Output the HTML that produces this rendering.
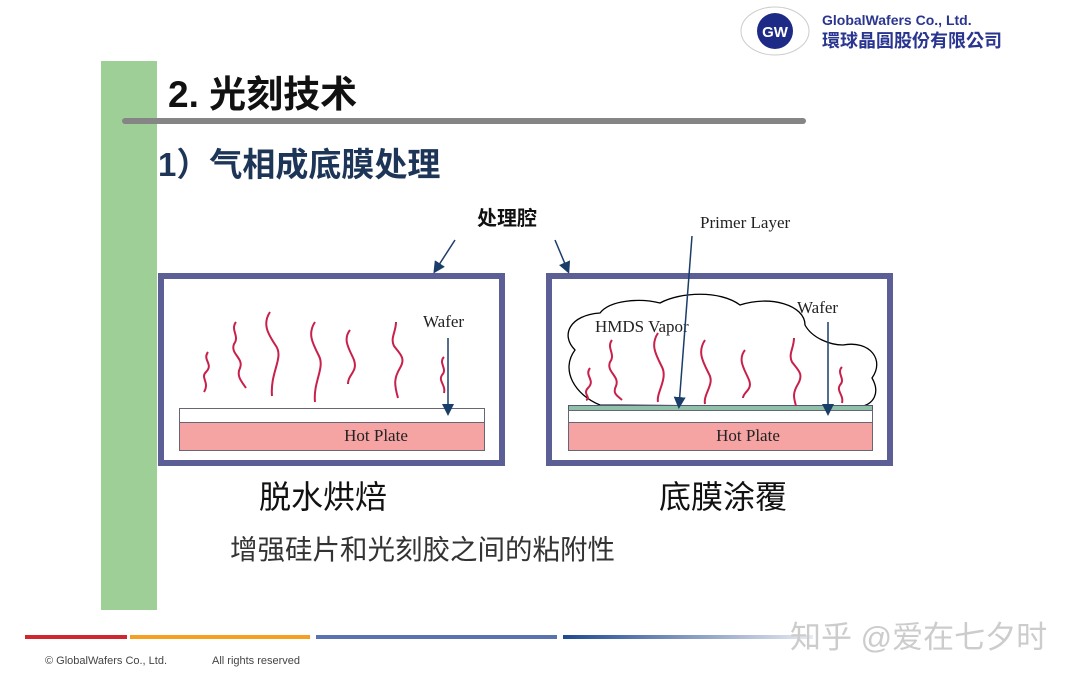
<!DOCTYPE html>
<html><head><meta charset="utf-8"><style>
body{margin:0;width:1080px;height:677px;background:#fff;position:relative;overflow:hidden;font-family:"Liberation Sans","Noto Sans CJK SC",sans-serif}
.a{position:absolute;white-space:nowrap}
</style></head><body>
<div class="a" style="left:101px;top:61px;width:56px;height:549px;background:#9dcf97"></div>
<div class="a" style="left:168px;top:64px;font-size:37px;font-weight:bold;color:#111">2. 光刻技术</div>
<div class="a" style="left:122px;top:118px;width:684px;height:6px;background:#858585;border-radius:3px"></div>
<div class="a" style="left:158px;top:138px;font-size:33px;font-weight:bold;color:#1d3557">1）气相成底膜处理</div>
<svg class="a" style="left:0;top:0" width="1080" height="677">
<defs><marker id="ar" markerWidth="8" markerHeight="8" refX="6" refY="4" orient="auto"><path d="M0,0 L8,4 L0,8z" fill="#1a3d6a"/></marker>
<linearGradient id="g" x1="0" x2="1"><stop offset="0" stop-color="#1f4a90"/><stop offset="1" stop-color="#e8eaf0"/></linearGradient></defs>
<ellipse cx="775" cy="31" rx="34" ry="24" fill="none" stroke="#ccc"/>
<circle cx="775" cy="31" r="18" fill="#1d2a86"/>
<text x="775" y="37" font-size="15" font-weight="bold" fill="#fff" text-anchor="middle" font-family="Liberation Sans">GW</text>
<text x="822" y="25" font-size="14" font-weight="bold" fill="#2a3590" font-family="Liberation Sans">GlobalWafers Co., Ltd.</text>
<text x="822" y="47" font-size="18" font-weight="bold" fill="#2a3590" font-family="Noto Sans CJK TC,sans-serif">環球晶圓股份有限公司</text>
<rect x="161" y="276" width="341" height="187" fill="#fff" stroke="#5c5f95" stroke-width="6"/>
<rect x="549" y="276" width="341" height="187" fill="#fff" stroke="#5c5f95" stroke-width="6"/>
<rect x="179.5" y="408.5" width="305" height="14" fill="#fff" stroke="#667" />
<rect x="179.5" y="422.5" width="305" height="28" fill="#f5a3a3" stroke="#667"/>
<text x="376" y="441" font-size="17" fill="#222" text-anchor="middle" font-family="Liberation Serif">Hot Plate</text>
<path d="M600,405 C575,395 560,370 575,350 C560,335 570,315 600,313 C610,300 640,298 660,303 C680,292 720,290 740,305 C770,295 805,305 805,325 C812,338 830,345 843,345 C870,340 885,360 872,378 C880,392 875,405 858,407 Z" fill="#fff" stroke="#000" stroke-width="1.3"/>
<rect x="568.5" y="405.5" width="304" height="5" fill="#8fc1a8" stroke="#557"/>
<rect x="568.5" y="410.5" width="304" height="12" fill="#fff" stroke="#667"/>
<rect x="568.5" y="422.5" width="304" height="28" fill="#f5a3a3" stroke="#667"/>
<text x="748" y="441" font-size="17" fill="#222" text-anchor="middle" font-family="Liberation Serif">Hot Plate</text>
<text x="595" y="332" font-size="17" fill="#222" font-family="Liberation Serif">HMDS Vapor</text>
<g fill="none" stroke="#c8204a" stroke-width="2">
<path d="M208,352 c-6,8 6,12 -2,20 c-6,6 4,10 -2,20"/>
<path d="M236,322 c-6,8 4,14 -2,22 c-4,10 10,14 6,24 c-4,8 2,14 6,20"/>
<path d="M270,312 c-8,12 -2,22 6,34 c8,12 -6,26 -4,50"/>
<path d="M315,322 c-8,12 -2,22 4,34 c6,12 -6,26 -4,46"/>
<path d="M350,330 c-8,10 0,20 4,30 c4,12 -6,14 -6,24"/>
<path d="M396,322 c0,10 -6,16 -2,24 c6,8 12,12 6,22 c-6,10 -6,16 -2,30"/>
<path d="M444,357 c-6,6 4,12 -2,18 c-4,6 4,10 2,18"/>
<path d="M590,368 c-6,8 6,12 -2,20 c-6,6 4,10 -2,12"/>
<path d="M612,340 c-6,8 4,14 -2,22 c-4,10 10,14 6,24 c-4,8 2,10 6,14"/>
<path d="M658,333 c-8,12 -2,22 4,34 c6,12 -6,26 -4,35"/>
<path d="M705,340 c-8,12 -2,22 4,34 c6,10 -6,20 -4,30"/>
<path d="M745,350 c-8,10 0,20 4,30 c4,10 -6,12 -6,18"/>
<path d="M794,338 c0,10 -6,16 -2,24 c6,8 12,12 6,22 c-6,10 -4,14 -2,22"/>
<path d="M842,367 c-6,6 4,12 -2,18 c-4,6 4,10 2,18"/>
</g>
<g stroke="#1a3d6a" stroke-width="1.5" fill="none" marker-end="url(#ar)">
<line x1="455" y1="240" x2="435" y2="271"/>
<line x1="555" y1="240" x2="568" y2="271"/>
<line x1="692" y1="236" x2="679" y2="406"/>
<line x1="448" y1="338" x2="448" y2="413"/>
<line x1="828" y1="322" x2="828" y2="413"/>
</g>
<text x="423" y="327" font-size="17" fill="#222" font-family="Liberation Serif">Wafer</text>
<text x="797" y="313" font-size="17" fill="#222" font-family="Liberation Serif">Wafer</text>
<text x="700" y="228" font-size="17" fill="#222" font-family="Liberation Serif">Primer Layer</text>
<rect x="25" y="635" width="102" height="4" fill="#d02630"/>
<rect x="130" y="635" width="180" height="4" fill="#f5a020"/>
<rect x="316" y="635" width="241" height="4" fill="#5a72b0"/>
<rect x="563" y="635" width="250" height="4" fill="url(#g)"/>
</svg>
<div class="a" style="left:477px;top:202px;font-size:20px;font-weight:bold;color:#111">处理腔</div>
<div class="a" style="left:259px;top:472px;font-size:32px;color:#111">脱水烘焙</div>
<div class="a" style="left:659px;top:472px;font-size:32px;color:#111">底膜涂覆</div>
<div class="a" style="left:230px;top:527px;font-size:27.5px;color:#333">增强硅片和光刻胶之间的粘附性</div>
<div class="a" style="left:45px;top:655px;font-size:11px;color:#444">© GlobalWafers Co., Ltd.</div>
<div class="a" style="left:212px;top:655px;font-size:11px;color:#444">All rights reserved</div>
<div class="a" style="left:790px;top:612px;font-size:31px;color:#ccc">知乎 @爱在七夕时</div>
</body></html>
